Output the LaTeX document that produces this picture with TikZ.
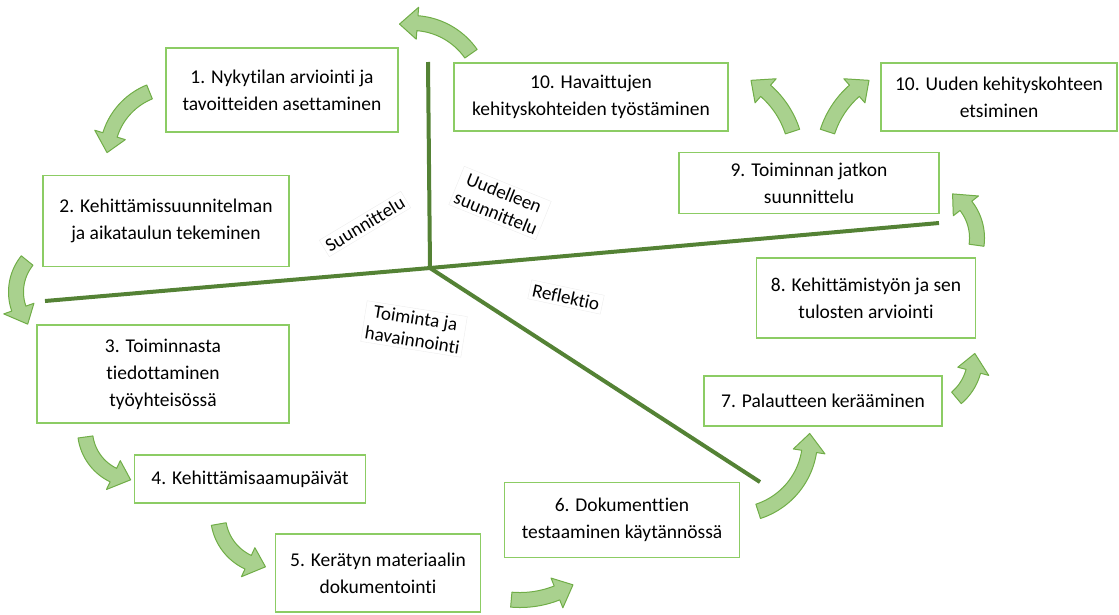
\documentclass[tikz,border=0pt]{standalone}
\usepackage{fontspec}
\setmainfont{Carlito}[Ligatures=NoCommon]
\usepackage{tikz}

\definecolor{cajaborde}{RGB}{140,204,100}
\definecolor{ejeverde}{RGB}{84,130,53}
\definecolor{flechafondo}{RGB}{169,209,142}
\definecolor{flechaborde}{RGB}{112,173,71}

% flecha curva gruesa: centro (#1,#2), radio #3, de angulo #4 a angulo #5
% (los angulos giran en sentido horario porque el eje y va hacia abajo)
\newcommand{\flechacurva}[5]{%
  \pgfmathsetmacro{\cabeza}{sign(#5-#4)*18/#3*57.3}
  \pgfmathsetmacro{\abase}{#5-\cabeza}
  \filldraw[flecha] plot[domain=#4:\abase, samples=24] ({#1+(#3+7.5)*cos(\x)},{#2+(#3+7.5)*sin(\x)})
    -- ({#1+(#3+16)*cos(\abase)},{#2+(#3+16)*sin(\abase)})
    -- ({#1+#3*cos(#5)},{#2+#3*sin(#5)})
    -- ({#1+(#3-16)*cos(\abase)},{#2+(#3-16)*sin(\abase)})
    -- plot[domain=\abase:#4, samples=24] ({#1+(#3-7.5)*cos(\x)},{#2+(#3-7.5)*sin(\x)}) -- cycle;
}

\begin{document}
\begin{tikzpicture}[x=1pt, y=-1pt,
  caja/.style={draw=cajaborde, line width=1.6pt, fill=white, align=center,
    inner sep=0pt, font=\fontsize{19.5}{27}\selectfont},
  etiqueta/.style={draw=black!7, fill=white, align=center, inner sep=3pt,
    font=\fontsize{19}{22}\selectfont},
  flecha/.style={fill=flechafondo, draw=flechaborde, line width=1pt, line join=round},
  eje/.style={draw=ejeverde, line width=4pt}]
\useasboundingbox (0,0) rectangle (1119,614);

% Ejes: el cruce esta en (centro)
\coordinate (centro) at (430,268);
\coordinate (arriba) at (428,62);
\coordinate (izq) at (45,301);
\coordinate (der) at (939,223);
\coordinate (diag) at (760,482);
\draw[eje] (arriba) -- (centro);
\draw[eje] (izq) -- (centro) -- (der);
\draw[eje] (centro) -- (diag);

% Rotulos de los cuadrantes
\node[etiqueta, rotate=31] (suun) at (365,224) {Suunnittelu};
\node[etiqueta, rotate=-22] (uude) at (500,203) {Uudelleen\\suunnittelu};
\node[etiqueta, rotate=-12] (refl) at (566,297) {Reflektio};
\node[etiqueta, rotate=-9] (toim) at (414,329) {Toiminta ja\\havainnointi};

% Cajas de las fases
\node[caja, minimum width=232, minimum height=84] (f1) at (282,90)
  {1. Nykytilan arviointi ja\\tavoitteiden asettaminen};
\node[caja, minimum width=246, minimum height=91] (f2) at (166,221)
  {2. Kehittämissuunnitelman\\ja aikataulun tekeminen};
\node[caja, minimum width=252, minimum height=98] (f3) at (163,374)
  {3. Toiminnasta\\tiedottaminen\\työyhteisössä};
\node[caja, minimum width=231, minimum height=48] (f4) at (250,479)
  {4. Kehittämisaamupäivät};
\node[caja, minimum width=205, minimum height=78] (f5) at (378,573)
  {5. Kerätyn materiaalin\\dokumentointi};
\node[caja, minimum width=235, minimum height=75] (f6) at (622,520)
  {6. Dokumenttien\\testaaminen käytännössä};
\node[caja, minimum width=238, minimum height=50] (f7) at (823,401)
  {7. Palautteen kerääminen};
\node[caja, minimum width=219, minimum height=80] (f8) at (866,298)
  {8. Kehittämistyön ja sen\\tulosten arviointi};
\node[caja, minimum width=260, minimum height=61] (f9) at (809,183)
  {9. Toiminnan jatkon\\suunnittelu};
\node[caja, minimum width=274, minimum height=68] (f10a) at (591,97)
  {10. Havaittujen\\kehityskohteiden työstäminen};
\node[caja, minimum width=236, minimum height=68] (f10b) at (999,97)
  {10. Uuden kehityskohteen\\etsiminen};

% Flechas curvas entre fases
\flechacurva{412}{95}{72}{-35}{-100}
\flechacurva{175}{155}{68}{-112}{-178}
\flechacurva{66}{292}{50}{219}{140}
\flechacurva{135}{430}{50}{172}{95}
\flechacurva{270}{515}{52}{170}{95}
\flechacurva{520}{500}{100}{95}{58}
\flechacurva{735}{440}{75}{72}{-5}
\flechacurva{923}{358}{52}{50}{-5}
\flechacurva{925}{238}{52}{8}{-58}
\flechacurva{705}{160}{92}{-18}{-60}
\flechacurva{915}{160}{92}{198}{240}
\end{tikzpicture}
\end{document}
